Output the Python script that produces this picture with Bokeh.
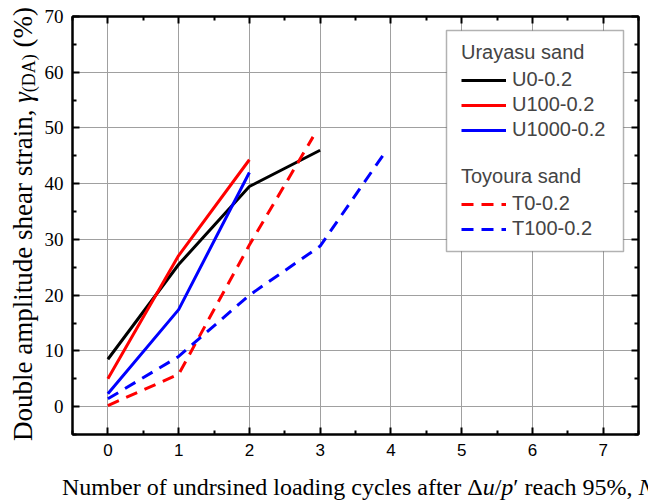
from bokeh.embed import file_html
from bokeh.layouts import column, row
from bokeh.models import (BoxAnnotation, Div, FixedTicker, Legend, LegendItem,
                          LinearAxis, Range1d)
from bokeh.plotting import figure
from bokeh.resources import INLINE

# Number of undrained cycles after Δu/p' reaches 95 % and the double amplitude shear strain (%)
n_u0 = [0, 1, 2, 3]
g_u0 = [8.5, 25.5, 39.5, 46.0]

n_u100 = [0, 1, 2]
g_u100 = [5.0, 27.1, 44.3]

n_u1000 = [0, 1, 2]
g_u1000 = [2.3, 17.4, 42.0]

n_t0 = [0, 1, 2, 2.9]
g_t0 = [0.2, 5.8, 29.0, 48.4]

n_t100 = [0, 1, 2, 3, 3.9]
g_t100 = [1.4, 9.0, 20.0, 28.8, 45.3]

x_ticks = [0, 1, 2, 3, 4, 5, 6, 7]
x_minor = [-0.5, 0.5, 1.5, 2.5, 3.5, 4.5, 5.5, 6.5, 7.5]
y_ticks = [0, 10, 20, 30, 40, 50, 60, 70]
y_minor = [-5, 5, 15, 25, 35, 45, 55, 65]

X0, X1 = -0.5, 7.5
Y0, Y1 = -5, 70

# page geometry (pixels): left strip for the y title, bottom strip for the x title
W, H = 648, 504
YT_W = 40            # width of the y-title strip
XT_H = 34            # height of the x-title strip
FL, FR, FT, FB = 72, 638, 16, 434   # plot frame on the page


def cx(px):
    """page x pixel -> data x"""
    return X0 + (px - FL) * (X1 - X0) / (FR - FL)


def cy(py):
    """page y pixel -> data y"""
    return Y1 - (py - FT) * (Y1 - Y0) / (FB - FT)


p = figure(width=W - YT_W, height=H - XT_H,
           x_range=Range1d(X0, X1), y_range=Range1d(Y0, Y1),
           output_backend="svg", toolbar_location=None,
           min_border_left=FL - YT_W, min_border_right=W - FR,
           min_border_top=FT, min_border_bottom=(H - XT_H) - FB)
p.background_fill_color = "white"
p.border_fill_color = "white"
p.outline_line_color = "black"
p.outline_line_width = 2

xt = FixedTicker(ticks=x_ticks, minor_ticks=x_minor)
yt = FixedTicker(ticks=y_ticks, minor_ticks=y_minor)

for g in (p.xgrid, p.ygrid):
    g.grid_line_color = "#a0a0a0"
    g.grid_line_width = 1
p.xgrid.ticker = xt
p.ygrid.ticker = yt


def style_axis(ax, ticker, font=None, size=None, show_labels=True):
    ax.ticker = ticker
    ax.axis_line_width = 2
    ax.axis_line_color = "black"
    ax.major_tick_in = 7
    ax.major_tick_out = 0
    ax.minor_tick_in = 4
    ax.minor_tick_out = 0
    ax.major_tick_line_width = 2
    ax.minor_tick_line_width = 2
    ax.major_tick_line_color = "black"
    ax.minor_tick_line_color = "black"
    if show_labels:
        ax.major_label_text_font = font
        ax.major_label_text_font_size = size
        ax.major_label_text_color = "black"
        ax.major_label_standoff = 9
    else:
        ax.major_label_text_font_size = "0px"
        ax.major_label_text_color = None
        ax.major_label_standoff = 0


style_axis(p.xaxis[0], xt, "Liberation Sans", "17px")
style_axis(p.yaxis[0], yt, "Liberation Serif", "19px")

top_axis = LinearAxis()
right_axis = LinearAxis()
style_axis(top_axis, xt, show_labels=False)
style_axis(right_axis, yt, show_labels=False)
p.add_layout(top_axis, "above")
p.add_layout(right_axis, "right")

# data lines
r_u0 = p.line(n_u0, g_u0, line_color="black", line_width=3)
r_u100 = p.line(n_u100, g_u100, line_color="#ff0000", line_width=3)
r_u1000 = p.line(n_u1000, g_u1000, line_color="#0000ff", line_width=3)
r_t0 = p.line(n_t0, g_t0, line_color="#ff0000", line_width=3, line_dash="12 8")
r_t100 = p.line(n_t100, g_t100, line_color="#0000ff", line_width=3, line_dash="12 8")

# legend frame shared by the two legend groups
p.add_layout(BoxAnnotation(left=cx(446), right=cx(623), top=cy(30), bottom=cy(251),
                           fill_color="white", fill_alpha=1.0,
                           line_color="black", line_width=1.5))


def make_legend(title, items, loc):
    lg = Legend(items=items, title=title, location=loc,
                label_text_font="Liberation Sans", label_text_font_size="20px",
                title_text_font="Liberation Sans", title_text_font_size="20px",
                title_text_font_style="normal", title_standoff=4,
                background_fill_alpha=0, border_line_color=None,
                padding=8, spacing=2, margin=0,
                label_height=20, glyph_height=20, glyph_width=45, label_standoff=6)
    p.add_layout(lg, "center")


make_legend("Urayasu sand",
            [LegendItem(label="U0-0.2", renderers=[r_u0]),
             LegendItem(label="U100-0.2", renderers=[r_u100]),
             LegendItem(label="U1000-0.2", renderers=[r_u1000])],
            (461 - FL, FB - 141))
make_legend("Toyoura sand",
            [LegendItem(label="T0-0.2", renderers=[r_t0]),
             LegendItem(label="T100-0.2", renderers=[r_t100])],
            (461 - FL, FB - 240))

# axis titles, with italic symbols and subscripts
serif = "'Liberation Serif', 'Times New Roman', serif"

y_title = Div(width=YT_W, height=H, margin=(0, 0, 0, 0), text=(
    f'<div style="position:relative;width:{YT_W}px;height:{H}px;">'
    f'<span style="position:absolute;left:10px;top:441px;transform-origin:0 0;'
    f'transform:rotate(-90deg);white-space:nowrap;font-family:{serif};'
    f'font-size:27px;line-height:27px;color:black;">'
    'Double amplitude shear strain, <i>&gamma;</i>'
    '<sub style="font-size:18px;line-height:0;vertical-align:-3px;">(DA)</sub> (%)</span></div>'))

x_title = Div(width=W - YT_W, height=XT_H, margin=(0, 0, 0, 0), text=(
    f'<div style="position:relative;width:{W - YT_W}px;height:{XT_H}px;overflow:hidden;">'
    f'<span style="position:absolute;left:{62 - YT_W}px;top:5px;white-space:nowrap;'
    f'font-family:{serif};font-size:24px;line-height:24px;color:black;">'
    'Number of undrsined loading cycles after &Delta;<i>u</i>/<i>p</i>&prime; '
    'reach 95%, <i>N</i><sub style="font-size:17px;line-height:0;"><i>c</i></sub>'
    '</span></div>'))

page = row(y_title, column(p, x_title, spacing=0), spacing=0)

open("out.html", "w").write(file_html(page, INLINE))
